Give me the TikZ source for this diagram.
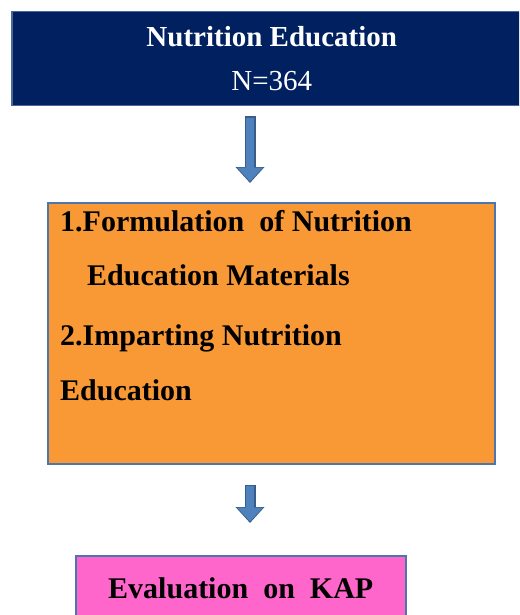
\documentclass[tikz,border=0pt]{standalone}
\usepackage{fontspec}
\setmainfont{Liberation Serif}
\usepackage{tikz}
\usetikzlibrary{positioning, arrows.meta}

\definecolor{navyfill}{HTML}{002060}
\definecolor{navyedge}{HTML}{4A6898}
\definecolor{stepfill}{HTML}{F89935}
\definecolor{boxedge}{HTML}{4F75AD}
\definecolor{kapfill}{HTML}{FF66CC}
\definecolor{arrowbody}{HTML}{4F81BD}
\definecolor{arrowline}{HTML}{385D8A}

\tikzset{
    bigfont/.style={font=\fontsize{29}{44}\selectfont},
    topbox/.style={bigfont, draw=navyedge, fill=navyfill, text=white, line width=1.5pt,
                   minimum width=520pt, minimum height=94pt, inner sep=0pt, align=center},
    stepbox/.style={draw=boxedge, fill=stepfill, line width=1.5pt,
                    minimum width=447pt, minimum height=261pt, inner sep=0pt},
    steptext/.style={font=\fontsize{30}{54}\selectfont\bfseries, inner sep=0pt, align=left},
    kapbox/.style={font=\fontsize{30}{44}\selectfont, draw=boxedge, fill=kapfill, line width=1.5pt,
                   minimum width=330pt, minimum height=66pt, inner sep=0pt},
    arrowedge/.style={draw=arrowline, line width=11pt, -{Triangle[width=28pt,length=16pt]}},
    arrowfill/.style={draw=arrowbody, line width=8.5pt, -{Triangle[width=25pt,length=14pt]}},
}

\begin{document}
\begin{tikzpicture}[x=1pt,y=-1pt]

    \clip (0,0) rectangle (519,615);

    \node(edu)[topbox,anchor=north west] at (11,11) {\textbf{Nutrition Education}\\N=364};
    \node(steps)[stepbox,anchor=north west] at (47,202) {};
    % base anchor sits on the last line
    \node(stepslist)[steptext,anchor=base west] at (60,400)
        {1.Formulation\ \ of Nutrition\\
         \hspace*{27pt}Education Materials\\[6pt]
         2.Imparting Nutrition\\[1pt]
         Education};
    \node(kap)[kapbox,anchor=north west] at (75,555) {\textbf{Evaluation\ \ on\ \ KAP}};

    \coordinate(ax) at (250,0);

    \draw[arrowedge, shorten <=10pt, shorten >=19pt] (edu.south -| ax) -- (steps.north -| ax);
    \draw[arrowfill, shorten <=11.5pt, shorten >=20.5pt] (edu.south -| ax) -- (steps.north -| ax);
    \draw[arrowedge, shorten <=20pt, shorten >=32pt] (steps.south -| ax) -- (kap.north -| ax);
    \draw[arrowfill, shorten <=21.5pt, shorten >=33.5pt] (steps.south -| ax) -- (kap.north -| ax);

\end{tikzpicture}
\end{document}
